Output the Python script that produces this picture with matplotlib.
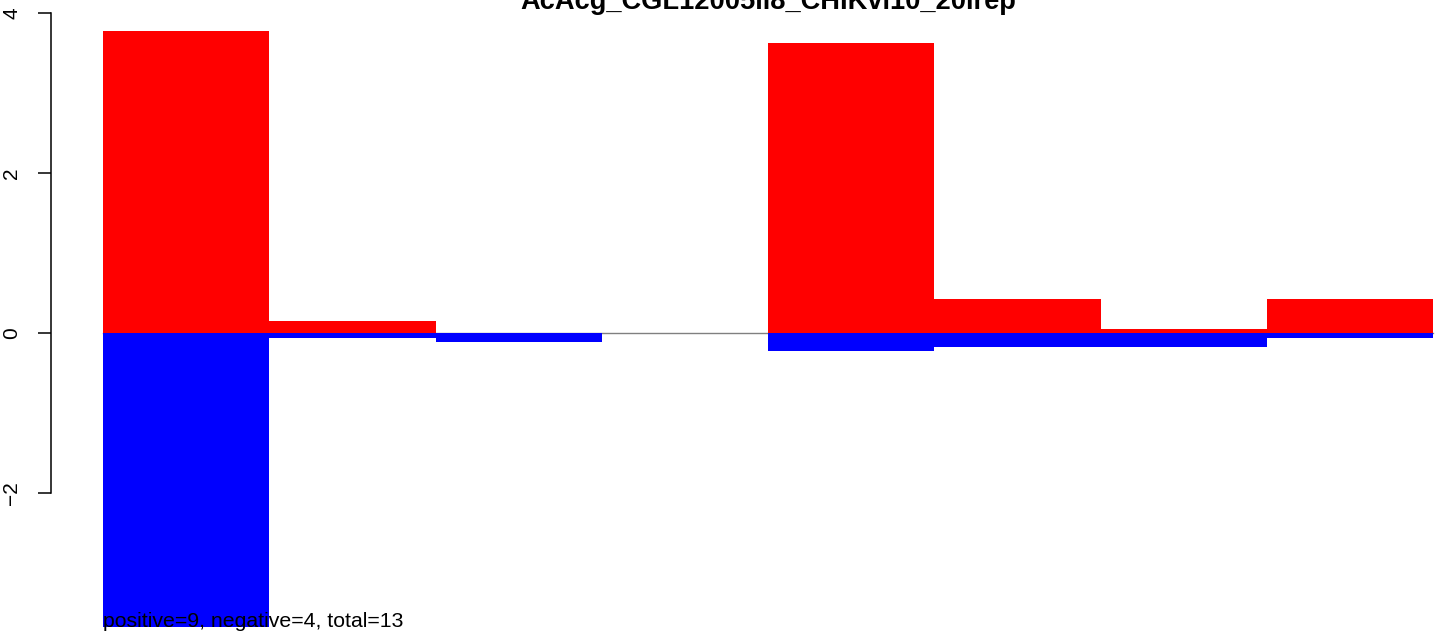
import matplotlib
matplotlib.use('Agg')
import matplotlib.pyplot as plt
import numpy as np

plt.rcParams['font.family'] = ['Liberation Sans', 'DejaVu Sans']

title = 'AcAcg_CGL12005ll8_CHIKvl10_20lrep'
positive = [3.775, 0.15, 0.0, 0.0, 3.625, 0.425, 0.05, 0.425]
negative = [-3.68, -0.0625, -0.11, 0.0, -0.225, -0.175, -0.175, -0.06]
note = 'positive=9, negative=4, total=13'
yticks = [-2, 0, 2, 4]

fig = plt.figure(figsize=(14.44, 6.39), dpi=100)
ax = fig.add_axes([0, 0, 1, 1])

x = np.arange(len(positive))
ax.plot([0, len(positive)], [0, 0], color='gray', lw=1, zorder=1)
ax.bar(x, positive, width=1, align='edge', color='red', zorder=2)
ax.bar(x, negative, width=1, align='edge', color='blue', zorder=2)

ax.set_xlim(-0.6195, 8.066)
ax.set_ylim(-3.825, 4.1625)

for s in ['top', 'right', 'bottom']:
    ax.spines[s].set_visible(False)
ax.spines['left'].set_position(('data', -0.315))
ax.spines['left'].set_bounds(-2, 4)
ax.spines['left'].set_linewidth(1.1)
ax.set_xticks([])
ax.set_yticks(yticks)
ax.set_yticklabels([str(t).replace('-', '\u2212') for t in yticks], rotation=90, va='center', fontsize=15)
ax.tick_params(axis='y', length=9.6, width=1.1, pad=11.5)

ax.text(0, -3.68, note, fontsize=15.3, ha='left', va='baseline', zorder=3)

# title is cut off at the top edge, as in the source image
fig.text(768 / 1444, 1 - 9 / 639, title, fontsize=19.6, fontweight='bold', ha='center', va='baseline')

fig.savefig('out.png', dpi=100)
